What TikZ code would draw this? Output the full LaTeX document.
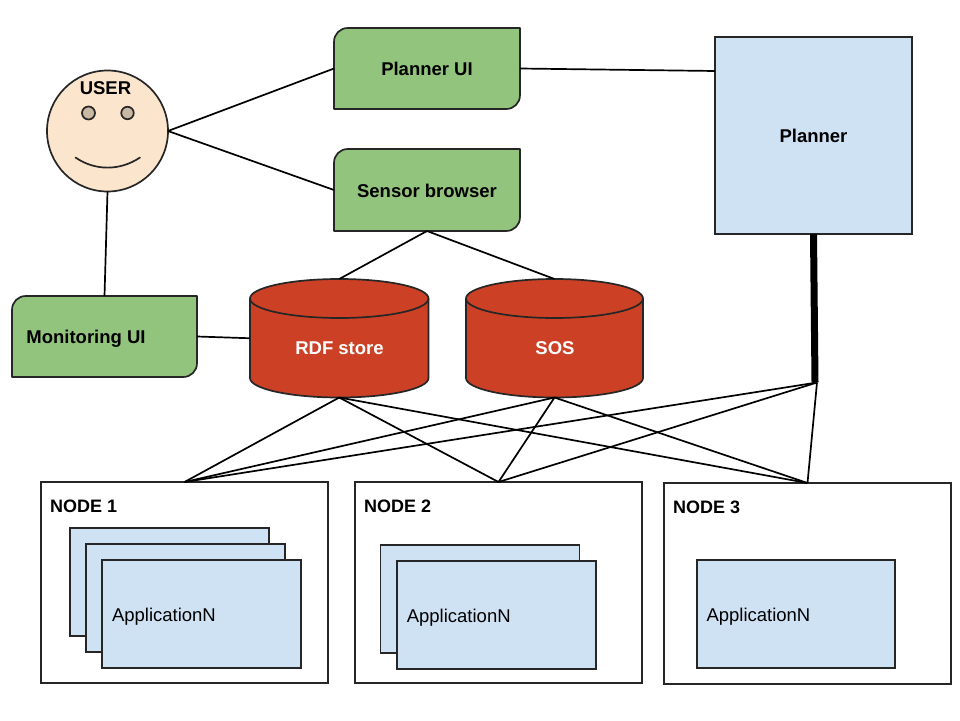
\documentclass[tikz,border=0pt]{standalone}
\usepackage{fontspec}
\usetikzlibrary{calc}
\setmainfont{Liberation Sans}
\definecolor{uigreen}{HTML}{93C47D}
\definecolor{dbred}{HTML}{CC4125}
\definecolor{paleblue}{HTML}{CFE2F3}
\definecolor{skin}{HTML}{FCE5CD}
\definecolor{eyecol}{HTML}{C9B8A3}
\newcommand{\uishape}[5]{% name, x0,y0,x1,y1
  \draw[ln,fill=uigreen,line join=round] (#2,#5) -- (#2,#3+14) .. controls (#2,#3+6) and (#2+6,#3) .. (#2+14,#3) -- (#4,#3) -- (#4,#5-14) .. controls (#4,#5-6) and (#4-6,#5) .. (#4-14,#5) -- cycle;
  \node[anchorbox,minimum width=#4-#2,minimum height=#5-#3] (#1) at ({(#2+#4)/2},{(#3+#5)/2}) {};
}
\newcommand{\dbshape}[6]{% name, x0,x1,ytop,ybot,ry  (ytop = y of the rim's centre line)
  \pgfmathsetmacro{\cxv}{(#2+#3)/2}
  \pgfmathsetmacro{\kxv}{(#3-#2)/2*0.5523}
  \pgfmathsetmacro{\kyv}{#6*0.5523}
  \draw[ln,fill=dbred] (#2,#4)
    .. controls (#2,#4-\kyv) and (\cxv-\kxv,#4-#6) .. (\cxv,#4-#6)
    .. controls (\cxv+\kxv,#4-#6) and (#3,#4-\kyv) .. (#3,#4)
    -- (#3,#5-#6)
    .. controls (#3,#5-#6+\kyv) and (\cxv+\kxv,#5) .. (\cxv,#5)
    .. controls (\cxv-\kxv,#5) and (#2,#5-#6+\kyv) .. (#2,#5-#6)
    -- cycle;
  \draw[ln] (#2,#4)
    .. controls (#2,#4+\kyv) and (\cxv-\kxv,#4+#6) .. (\cxv,#4+#6)
    .. controls (\cxv+\kxv,#4+#6) and (#3,#4+\kyv) .. (#3,#4);
  \node[anchorbox,minimum width=#3-#2,minimum height=#5-#4+#6] (#1) at (\cxv,{(#4-#6+#5)/2}) {};
}
\tikzset{
  x=1pt,y=-1pt,
  ln/.style={draw=black!85,line width=1.7pt},
  wire/.style={draw=black,line width=1.7pt},
  anchorbox/.style={rectangle,inner sep=0pt,outer sep=0pt},
  boldlabel/.style={font=\fontsize{18.5}{20}\selectfont\bfseries,inner sep=0pt},
  nodelabel/.style={font=\fontsize{18}{20}\selectfont\bfseries,inner sep=0pt,anchor=west},
  lightlabel/.style={boldlabel,text=white},
  nodebox/.style={rectangle,ln,fill=white,minimum width=287pt,minimum height=201pt,inner sep=0pt,outer sep=0pt},
  appbox/.style={rectangle,ln,fill=paleblue,minimum width=199pt,minimum height=108pt,outer sep=0pt,inner sep=0pt,
    text width=179pt,align=left,font=\fontsize{18.5}{20}\selectfont},
  apptext/.style={text height=15pt,text depth=0pt},
}
\begin{document}
\begin{tikzpicture}
\useasboundingbox (0,0) rectangle (960,720);
\fill[white] (0,0) rectangle (960,720);

% user
\node[circle,ln,fill=skin,minimum size=121pt,inner sep=0pt,outer sep=0pt] (user) at (107.5,131) {};
\node[boldlabel] (userlabel) at (105.5,88) {USER};
\node[circle,ln,fill=eyecol,minimum size=13pt,inner sep=0pt] (eyeL) at (88.5,113) {};
\node[circle,ln,fill=eyecol,minimum size=12.5pt,inner sep=0pt] (eyeR) at (127.5,113) {};
\draw[ln,line cap=round] (75.5,157.5) .. controls (95,171) and (120,171) .. (140,157.5);

% UI boxes
\uishape{planui}{334}{28}{520}{109}
\uishape{sensor}{334}{149}{520}{231}
\uishape{monui}{12}{296}{197}{377}
\node[boldlabel] (planuil) at (427,69) {Planner UI};
\node[boldlabel] (sensorl) at (427,191) {Sensor browser};
\node[boldlabel] (monuil) at (86,339) {Monitoring UI};

% planner
\node[rectangle,ln,fill=paleblue,minimum width=197pt,minimum height=197pt,inner sep=0pt,outer sep=0pt,boldlabel] (planner) at (813.5,135.5) {Planner};
\coordinate (hub) at (815,382.5);
\coordinate (hubend) at (817,382.5);
\coordinate (planin) at ($(planner.north west)+(0,34)$);

% stores
\dbshape{rdf}{250}{428.5}{298.5}{397.5}{19.5}
\dbshape{sos}{466}{643}{298.5}{397.5}{19.5}
\node[lightlabel] (rdfl) at (339.5,348.5) {RDF store};
\node[lightlabel] (sosl) at (555,348.5) {SOS};

% nodes
\node[nodebox] (n1) at (184.5,582.5) {};
\node[nodebox] (n2) at (498.5,582.5) {};
\node[nodebox] (n3) at (807.5,583.5) {};
\node[nodelabel] (n1l) at (50,506) {NODE 1};
\node[nodelabel] (n2l) at (364,506) {NODE 2};
\node[nodelabel] (n3l) at (673,507) {NODE 3};

% applications
\node[appbox] (a11) at (169.5,582) {};
\node[appbox] (a12) at (185.5,598) {};
\node[appbox,apptext] (a13) at (201.5,614) {ApplicationN};
\node[appbox] (a21) at (480,599) {};
\node[appbox,apptext] (a22) at (496.3,615) {ApplicationN};
\node[appbox,apptext,minimum width=198pt] (a31) at (796,614) {ApplicationN};

% connectors
\draw[wire] (user.east) -- (planui.west);
\draw[wire] (user.east) -- (sensor.west);
\draw[wire] (user.south) -- (monui.north);
\draw[wire] (monui.east) -- (rdf.west);
\draw[wire] (planui.east) -- (planin);
\draw[wire] (sensor.south) -- (rdf.north);
\draw[wire] (sensor.south) -- (sos.north);
\draw[line width=7pt] (planner.south) -- (hub);
\foreach \s in {rdf,sos}{
  \foreach \t in {n1,n2,n3}{
    \draw[wire] (\s.south) -- (\t.north);
  }
}
\foreach \t in {n1,n2,n3}{
  \draw[wire] (hubend) -- (\t.north);
}
\end{tikzpicture}
\end{document}
